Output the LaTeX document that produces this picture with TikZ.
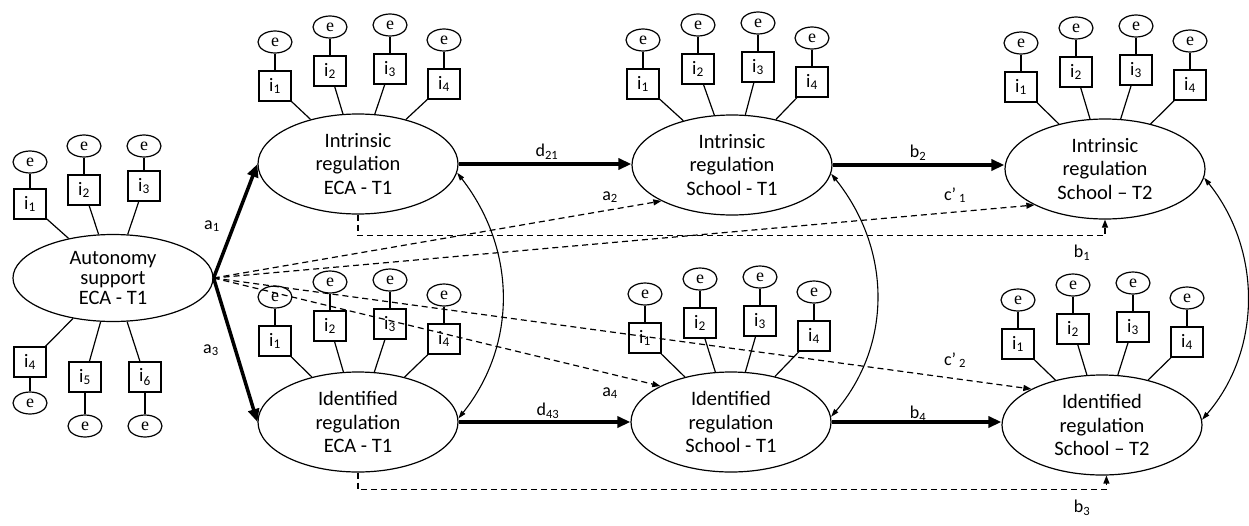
\documentclass[tikz,border=0pt]{standalone}
\usepackage{fontspec}
\setmainfont{Carlito}
\newfontfamily\eserif{Liberation Serif}
\usetikzlibrary{arrows.meta,calc,shapes.geometric}

\tikzset{
  lat/.style={ellipse, draw, line width=1.2, fill=white, minimum width=200, minimum height=100,
    inner sep=0, align=center, font=\fontsize{20.5}{23.5}\selectfont},
  ind/.style={rectangle, draw, line width=1.2, fill=white, minimum width=32, minimum height=30,
    inner sep=0, font=\fontsize{19}{19}\selectfont},
  err/.style={ellipse, draw, line width=1.2, fill=white, minimum width=34, minimum height=22,
    inner sep=0, font=\eserif\fontsize{18}{18}\selectfont},
  load/.style={line width=1.2},
  strong/.style={line width=3.5, -{Triangle[length=13,width=11]}},
  dpath/.style={line width=1.2, dash pattern=on 6pt off 4pt, -{Triangle[length=8,width=6]}},
  cov/.style={line width=1.1, {Triangle[length=8,width=5]}-{Triangle[length=8,width=5]}},
  lab/.style={inner sep=0, font=\fontsize{18}{18}\selectfont}
}

\newcommand\indgrp[4]{%
  \begin{scope}[shift={(#2,#3)}]
    \node[ind] (#1i1) at (0,0) {i\textsubscript{1}};
    \node[ind] (#1i2) at (55,-15) {i\textsubscript{2}};
    \node[ind] (#1i3) at (115,-17) {i\textsubscript{3}};
    \node[ind] (#1i4) at (169,-2) {i\textsubscript{4}};
    \node[err] (#1e1) at (0,-44) {e};
    \node[err] (#1e2) at (55,-59) {e};
    \node[err] (#1e3) at (115,-61) {e};
    \node[err] (#1e4) at (169,-46) {e};
  \end{scope}
  \foreach \k in {1,...,4}{
    \draw[load] (#1e\k) -- (#1i\k);
    \draw[load] (#1i\k) -- (#4);
  }
}

\begin{document}
\begin{tikzpicture}[x=1pt,y=-1pt]
\useasboundingbox (0,0) rectangle (1249,525);

% latent variables
\node[lat, minimum height=87, font=\fontsize{20.5}{20}\selectfont] (Aut) at (113,278) {Autonomy\\support\\ECA - T1};
\node[lat] (IntrECA) at (358,164) {Intrinsic\\regulation\\ECA - T1};
\node[lat] (IdECA) at (358,422) {Identified\\regulation\\ECA - T1};
\node[lat] (IntrST1) at (732,165) {Intrinsic\\regulation\\School - T1};
\node[lat] (IdST1) at (731,422) {Identified\\regulation\\School - T1};
\node[lat] (IntrST2) at (1105,169) {Intrinsic\\regulation\\School – T2};
\node[lat] (IdST2) at (1102,425) {Identified\\regulation\\School – T2};

% autonomy indicators
\node[ind] (Ai1) at (30,204) {i\textsubscript{1}};
\node[err] (Ae1) at (30,162) {e};
\node[ind] (Ai2) at (84,190) {i\textsubscript{2}};
\node[err] (Ae2) at (84,146) {e};
\node[ind] (Ai3) at (144,186) {i\textsubscript{3}};
\node[err] (Ae3) at (144,146) {e};
\node[ind] (Ai4) at (30,362) {i\textsubscript{4}};
\node[err] (Ae4) at (30,403) {e};
\node[ind] (Ai5) at (85,377) {i\textsubscript{5}};
\node[err] (Ae5) at (85,426) {e};
\node[ind] (Ai6) at (145,377) {i\textsubscript{6}};
\node[err] (Ae6) at (145,426) {e};
\foreach \k in {1,...,6}{
  \draw[load] (Ae\k) -- (Ai\k);
  \draw[load] (Ai\k) -- (Aut);
}

% indicator groups
\indgrp{IE}{275}{86}{IntrECA}
\indgrp{DE}{275}{341}{IdECA}
\indgrp{IS}{643}{84}{IntrST1}
\indgrp{DS}{645}{338}{IdST1}
\indgrp{IT}{1021}{87}{IntrST2}
\indgrp{DT}{1018}{344}{IdST2}

% structural paths
\draw[strong] (Aut.east) -- (IntrECA.west);
\draw[strong] (Aut.east) -- (IdECA.west);
\draw[strong] (IntrECA.east) -- (IntrECA.east -| IntrST1.west);
\draw[strong] (IntrST1.east) -- (IntrST1.east -| IntrST2.west);
\draw[strong] (IdECA.east) -- (IdECA.east -| IdST1.west);
\draw[strong] (IdST1.east) -- (IdST1.east -| IdST2.west);

% dashed paths
\draw[dpath] (Aut.east) -- (IntrST1.207);
\draw[dpath] (Aut.east) -- (IntrST2.207);
\draw[dpath] (Aut.east) -- (IdST1.153);
\draw[dpath] (Aut.east) -- (IdST2.153);
\draw[dpath] (IntrECA.south) -- ++(0,21) -| (IntrST2.south);
\draw[dpath] (IdECA.south) -- ++(0,17) -| (IdST2.-85);

% covariances
\draw[cov] (IntrECA.-5) .. controls (517,250) and (517,345) .. (IdECA.2);
\draw[cov] (IntrST1.-5) .. controls (892,250) and (892,345) .. (IdST1.3);
\draw[cov] (IntrST2.-5) .. controls (1262,250) and (1262,350) .. (IdST2.3);

% labels
\node[lab] (la1) at (212,226) {a\textsubscript{1}};
\node[lab] (la3) at (211,350) {a\textsubscript{3}};
\node[lab] (ld21) at (547,152) {d\textsubscript{21}};
\node[lab] (la2) at (610,197) {a\textsubscript{2}};
\node[lab] (lb2) at (918,153) {b\textsubscript{2}};
\node[lab] (lc1) at (955,195) {c’\,\textsubscript{1}};
\node[lab] (lb1) at (1082,253) {b\textsubscript{1}};
\node[lab] (la4) at (610,393) {a\textsubscript{4}};
\node[lab] (ld43) at (548,411) {d\textsubscript{43}};
\node[lab] (lc2) at (955,360) {c’\,\textsubscript{2}};
\node[lab] (lb4) at (918,414) {b\textsubscript{4}};
\node[lab] (lb3) at (1082,508) {b\textsubscript{3}};
\end{tikzpicture}
\end{document}
